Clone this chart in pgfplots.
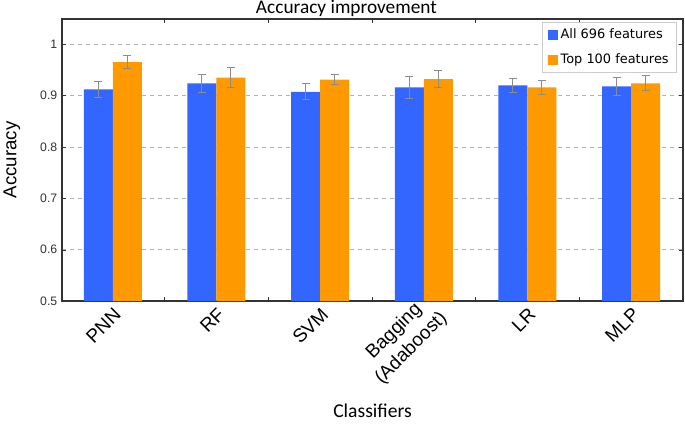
\documentclass[border=0pt]{standalone}
\usepackage{fontspec}
\setmainfont{Liberation Sans}
\newfontfamily\calibri{Carlito}
\newfontfamily\legfont{DejaVu Sans}
\usepackage{pgfplots}
\usepackage{pgfplotstable}
\pgfplotsset{compat=1.18}
\definecolor{cblue}{HTML}{3366FF}
\definecolor{corange}{HTML}{FF9900}
\definecolor{ebar}{HTML}{8C8C8C}
\pgfplotstableread{
x blue eb orange eo
0 0.912 0.016 0.965 0.013
1 0.9235 0.0175 0.935 0.020
2 0.907 0.0156 0.931 0.009
3 0.916 0.0215 0.932 0.017
4 0.920 0.0134 0.916 0.0132
5 0.918 0.0175 0.9235 0.0146
}\datatable
\begin{document}
\begin{tikzpicture}
\path[use as bounding box] (-46.5pt,-93.75pt) rectangle (467.25pt,225.75pt);
\begin{axis}[
  at={(0,0)}, anchor=south west,
  scale only axis, width=465.75pt, height=211.5pt,
  ybar=0pt, bar width=21.75pt,
  xmin=-0.49, xmax=5.5, ymin=0.5, ymax=1.049,
  xtick={0,1,2,4,5},
  xticklabels={PNN,RF,SVM,LR,MLP},
  extra x ticks={3},
  extra x tick labels={{Bagging\\(Adaboost)}},
  extra x tick style={major x tick style={draw=none}, xticklabel style={xshift=6pt, yshift=-1.5pt}},
  minor xtick={0.5,1.5,2.5,3.5,4.5},
  major x tick style={draw=none},
  minor x tick style={black!80, line width=0.6pt},
  minor tick length=3pt,
  ytick={0.5,0.6,0.7,0.8,0.9,1},
  major y tick style={black!80},
  major tick length=3pt,
  tick align=inside,
  ymajorgrids, grid style={dashed, gray!60, line width=0.6pt},
  axis line style={black!80, line width=0.8pt},
  /pgf/number format/assume math mode=true,
  yticklabel style={font=\fontsize{9.2}{11}\selectfont, text=black!80, /pgf/number format/fixed, /pgf/number format/precision=1},
  xticklabel style={font=\fontsize{14.2}{18}\selectfont, xshift=6pt, yshift=-5.25pt, rotate=45, anchor=east, align=center},
  ylabel={Accuracy},
  ylabel style={font=\fontsize{14}{16}\selectfont, at={(axis description cs:-0.0805,0.5)}, anchor=center},
  xlabel={Classifiers},
  xlabel style={font=\calibri\fontsize{14.7}{16}\selectfont, at={(axis description cs:0.5,0)}, anchor=north, yshift=-74pt},
  every axis title shift=0pt,
  title={Accuracy improvement},
  title style={font=\calibri\fontsize{14.5}{17}\selectfont, at={(axis description cs:0.458,1)}, anchor=base, yshift=4.5pt},
  legend style={at={(axis description cs:1,1)}, anchor=north east, xshift=-4.5pt, yshift=-2.25pt,
    draw=gray!40, font=\legfont\fontsize{9.7}{11}\selectfont, row sep=6pt, inner xsep=4pt, inner ysep=3pt},
  legend cell align=left,
  legend image code/.code={\fill[#1] (0pt,-3.8pt) rectangle (7.8pt,4pt);},
  error bars/error bar style={ebar, line width=0.75pt},
  error bars/error mark options={ebar, rotate=90, mark size=3pt, line width=0.75pt},
]
\addplot[fill=cblue, draw=none, error bars/.cd, y dir=both, y explicit] table[x=x, y=blue, y error=eb] {\datatable};
\addplot[fill=corange, draw=none, error bars/.cd, y dir=both, y explicit] table[x=x, y=orange, y error=eo] {\datatable};
\legend{All 696 features, Top 100 features}
\end{axis}
\end{tikzpicture}
\end{document}
